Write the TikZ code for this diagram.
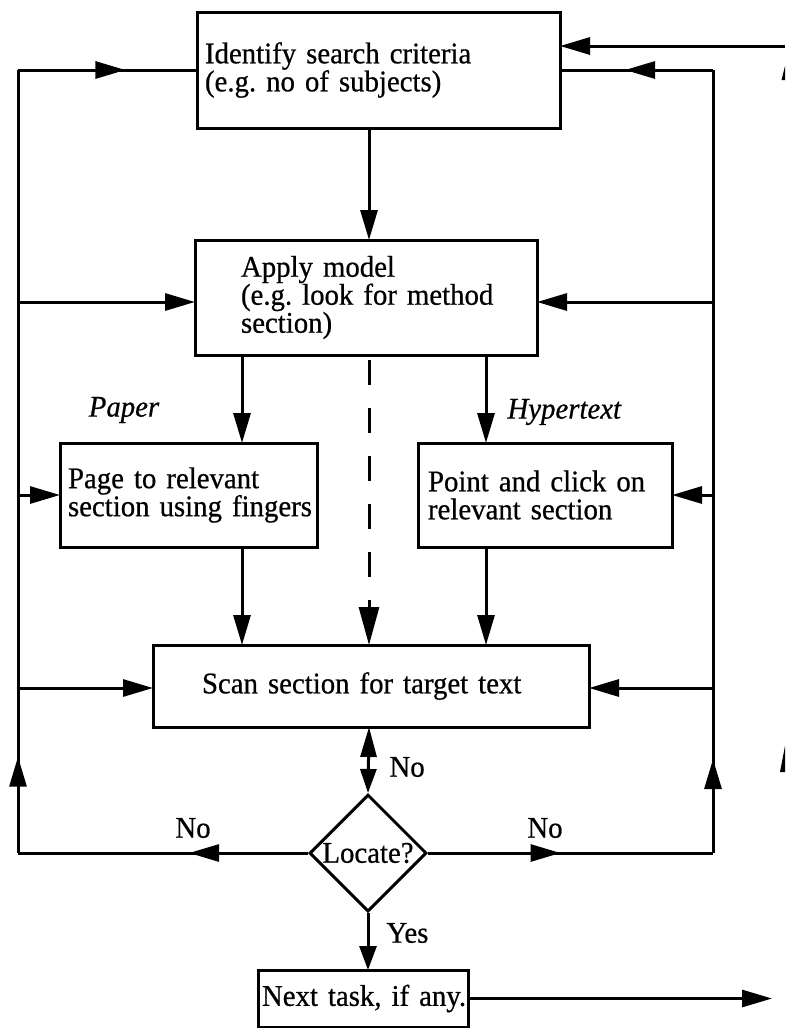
\documentclass[tikz,border=0pt]{standalone}
\usepackage{fontspec}
\setmainfont{Liberation Serif}[FakeStretch=0.96,FakeBold=0.6]
\usetikzlibrary{arrows.meta,shapes.geometric,decorations.markings}
\frenchspacing
\begin{document}
\begin{tikzpicture}[x=1pt,y=-1pt,
  line width=3pt,
  font=\fontsize{30}{28}\selectfont,
  tip/.style={-{Triangle[length=30pt,width=17pt]}},
  dashtip/.style={dash pattern=on 25pt off 23pt,dash phase=43pt,-{Triangle[length=38pt,width=20pt]}},
  midtip/.style={postaction={decorate},decoration={markings,
      mark=at position #1 with {\arrow{Triangle[length=30pt,width=17pt]}}}},
  box/.style={draw,rectangle,anchor=north west,inner ysep=0pt,outer sep=0pt,align=left},
  lbl/.style={inner sep=0pt}]
\useasboundingbox (0,0) rectangle (785,1028);

% process boxes
\node[box,minimum width=363pt,minimum height=116pt,text width=347pt,inner xsep=8pt]
  (ident) at (197,12) {Identify search criteria\\(e.g. no of subjects)};
\node[box,minimum width=342pt,minimum height=115pt,text width=250pt,inner xsep=46pt]
  (apply) at (195,240) {Apply model\\\mbox{(e.g. look for method}\\section)};
\node[box,minimum width=257pt,minimum height=104pt,text width=241pt,inner xsep=8pt]
  (paper) at (60,443) {Page to relevant\\\mbox{section using fingers}};
\node[box,minimum width=254pt,minimum height=104pt,text width=234pt,inner xsep=10pt]
  (hyper) at (418,443) {Point and click on\\relevant section};
\node[box,minimum width=436pt,minimum height=82pt,text width=338pt,inner xsep=49pt]
  (scan) at (153,645) {Scan section for target text};
\node[draw,diamond,minimum width=117pt,minimum height=117pt,inner sep=0pt]
  (loc) at (368,853) {Locate?};
\node[box,minimum width=210pt,minimum height=57pt,text width=202pt,inner xsep=4pt]
  (next) at (258,970) {\mbox{Next task, if any.}};

% labels
\node[lbl] (paperlbl) at (124,410) {\itshape Paper};
\node[lbl,anchor=west] (hyperlbl) at (506,412) {\itshape Hypertext};
\node[lbl,anchor=west] (noup) at (388,767) {No};
\node[lbl] (noleft) at (193,828) {No};
\node[lbl] (noright) at (545,828) {No};
\node[lbl,anchor=west] (yes) at (385,933) {Yes};

% routing points
\coordinate (Ltop) at (18,70);
\coordinate (Lbot) at (18,853);
\coordinate (Rtop) at (713,70);
\coordinate (Rbot) at (713,853);
\coordinate (inR) at (785,46);
\coordinate (outR) at (772,0);
\coordinate (axis) at (369,0);
\coordinate (pax) at (242,0);
\coordinate (hax) at (486,0);
\coordinate (ya) at (0,302);
\coordinate (yp) at (0,495);
\coordinate (ys) at (0,688);

% main flow
\draw[tip] (inR) -- (inR -| ident.east);
\draw[tip] (ident.south -| axis) -- (apply.north -| axis);
\draw[tip] (apply.south -| pax) -- (paper.north -| pax);
\draw[tip] (apply.south -| hax) -- (hyper.north -| hax);
\draw[dashtip] (apply.south -| axis) -- (scan.north -| axis);
\draw[tip] (paper.south -| pax) -- (scan.north -| pax);
\draw[tip] (hyper.south -| hax) -- (scan.north -| hax);
\draw[{Triangle[length=30pt,width=16pt]}-{Triangle[length=24pt,width=16pt]}]
  (scan.south -| axis) -- (loc.north);
\draw[-{Triangle[length=24pt,width=17pt]}] (loc.south) -- (loc.south |- next.north);
\draw[tip] (next.east) -- (next.east -| outR);

% left loop
\draw[midtip=0.41] (loc.west) -- (Lbot);
\draw[midtip=0.123] (Lbot) -- (Ltop);
\draw[midtip=0.6] (Ltop) -- (Ltop -| ident.west);
\draw[tip] (Ltop |- ya) -- (apply.west |- ya);
\draw[tip] (Ltop |- yp) -- (paper.west |- yp);
\draw[tip] (Ltop |- ys) -- (scan.west |- ys);

% right loop
\draw[midtip=0.465] (loc.east) -- (Rbot);
\draw[midtip=0.12] (Rbot) -- (Rtop);
\draw[midtip=0.575] (Rtop) -- (Rtop -| ident.east);
\draw[tip] (Rtop |- ya) -- (apply.east |- ya);
\draw[tip] (Rtop |- yp) -- (hyper.east |- yp);
\draw[tip] (Rtop |- ys) -- (scan.east |- ys);

% arrow fragments at the right edge
\fill (781.5,80) -- (785,66) -- (785,80) -- cycle;
\fill (780,772) -- (785,746) -- (785,772) -- cycle;
\end{tikzpicture}
\end{document}
